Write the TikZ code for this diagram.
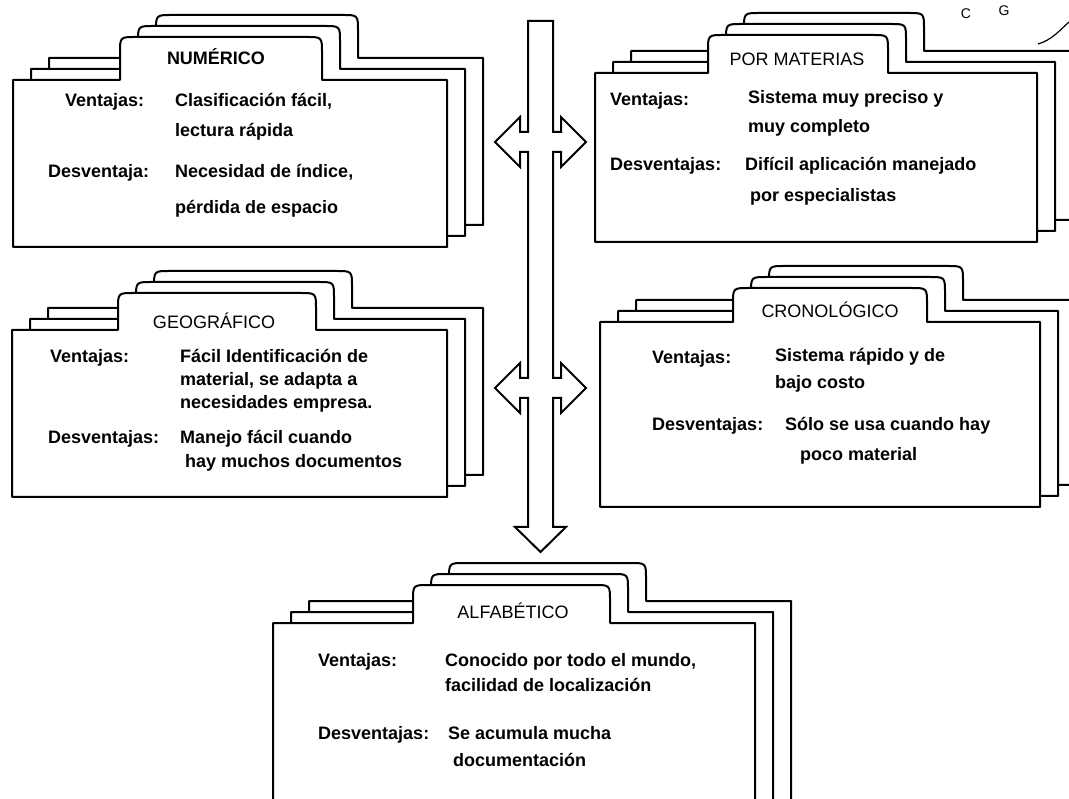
\documentclass[tikz,border=0pt]{standalone}
\usepackage{fontspec}
\setmainfont{Liberation Sans}

% carpeta: izquierda, arriba, derecha, abajo, pestaña izq., pestaña der., pestaña arriba
\newcommand{\carpeta}[7]{
  \foreach \d in {2, 1, 0} {
    \filldraw[hoja, shift={(18*\d, -11*\d)}] (#1, #4) -- (#1, #2) -- (#5, #2)
      -- (#5, #7+16) .. controls (#5, #7) .. (#5+16, #7) -- (#6-16, #7)
      .. controls (#6, #7) .. (#6, #7+16) -- (#6, #2) -- (#3, #2) -- (#3, #4) -- cycle;
  }
}

\begin{document}
\begin{tikzpicture}[x=1pt, y=-1pt,
  hoja/.style={draw=black, fill=white, line width=2pt, line join=round},
  titulo/.style={font=\fontsize{18}{20}\selectfont, anchor=base, inner sep=0pt},
  texto/.style={font=\fontsize{18}{20}\selectfont\bfseries, anchor=base west, inner sep=0pt},
  flecha/.style={draw=black, fill=white, line width=2pt, line join=miter}]
  \useasboundingbox (0, 0) rectangle (1069, 799);
  \clip (0, 0) rectangle (1069, 799);

  % carpetas
  \carpeta{13}{80}{447}{247}{120}{322}{37}
  \carpeta{595}{73}{1037}{242}{708}{888}{35}
  \carpeta{12}{330}{447}{497}{118}{316}{293}
  \carpeta{600}{322}{1040}{507}{733}{927}{288}
  \carpeta{273}{623}{755}{830}{413}{610}{585}

  % flecha central
  \filldraw[flecha] (528, 21) -- (553, 21) -- (553, 132) -- (561, 132) -- (561, 117)
    -- (586, 142) -- (561, 167) -- (561, 152) -- (553, 152) -- (553, 378) -- (561, 378)
    -- (561, 363) -- (586, 388) -- (561, 413) -- (561, 398) -- (553, 398) -- (553, 527)
    -- (566, 527) -- (540.5, 552) -- (515, 527) -- (528, 527) -- (528, 398) -- (520, 398)
    -- (520, 413) -- (495, 388) -- (520, 363) -- (520, 378) -- (528, 378) -- (528, 152)
    -- (520, 152) -- (520, 167) -- (495, 142) -- (520, 117) -- (520, 132) -- (528, 132) -- cycle;

  % numerico
  \node[titulo, font=\fontsize{18}{20}\selectfont\bfseries] (num) at (216, 65) {NUMÉRICO};
  \node[texto] (num-v) at (65, 107) {Ventajas:};
  \node[texto] (num-v1) at (175, 107) {Clasificación fácil,};
  \node[texto] (num-v2) at (175, 137) {lectura rápida};
  \node[texto] (num-d) at (48, 178) {Desventaja:};
  \node[texto] (num-d1) at (175, 178) {Necesidad de índice,};
  \node[texto] (num-d2) at (175, 214) {pérdida de espacio};

  % por materias
  \node[titulo] (mat) at (797, 66) {POR MATERIAS};
  \node[texto] (mat-v) at (610, 106) {Ventajas:};
  \node[texto] (mat-v1) at (748, 104) {Sistema muy preciso y};
  \node[texto] (mat-v2) at (748, 133) {muy completo};
  \node[texto] (mat-d) at (610, 171) {Desventajas:};
  \node[texto] (mat-d1) at (745, 171) {Difícil aplicación manejado};
  \node[texto] (mat-d2) at (750, 202) {por especialistas};

  % geografico
  \node[titulo] (geo) at (214, 329) {GEOGRÁFICO};
  \node[texto] (geo-v) at (50, 363) {Ventajas:};
  \node[texto] (geo-v1) at (180, 363) {Fácil Identificación de};
  \node[texto] (geo-v2) at (180, 386) {material, se adapta a};
  \node[texto] (geo-v3) at (180, 409) {necesidades empresa.};
  \node[texto] (geo-d) at (48, 444) {Desventajas:};
  \node[texto] (geo-d1) at (180, 444) {Manejo fácil cuando};
  \node[texto] (geo-d2) at (185, 468) {hay muchos documentos};

  % cronologico
  \node[titulo] (cro) at (830, 318) {CRONOLÓGICO};
  \node[texto] (cro-v) at (652, 364) {Ventajas:};
  \node[texto] (cro-v1) at (775, 362) {Sistema rápido y de};
  \node[texto] (cro-v2) at (775, 389) {bajo costo};
  \node[texto] (cro-d) at (652, 431) {Desventajas:};
  \node[texto] (cro-d1) at (785, 431) {Sólo se usa cuando hay};
  \node[texto] (cro-d2) at (800, 461) {poco material};

  % alfabetico
  \node[titulo] (alf) at (513, 618) {ALFABÉTICO};
  \node[texto] (alf-v) at (318, 666) {Ventajas:};
  \node[texto] (alf-v1) at (445, 666) {Conocido por todo el mundo,};
  \node[texto] (alf-v2) at (445, 691) {facilidad de localización};
  \node[texto] (alf-d) at (318, 739) {Desventajas:};
  \node[texto] (alf-d1) at (448, 739) {Se acumula mucha};
  \node[texto] (alf-d2) at (453, 766) {documentación};

  % restos arriba a la derecha
  \node[font=\fontsize{14}{15}\selectfont, inner sep=0pt] (resto-c) at (966, 14) {C};
  \node[font=\fontsize{14}{15}\selectfont, inner sep=0pt] (resto-g) at (1004, 11) {G};
  \draw[line width=1.2pt] (1038, 44) .. controls (1052, 40) and (1060, 30) .. (1069, 22);
\end{tikzpicture}
\end{document}
